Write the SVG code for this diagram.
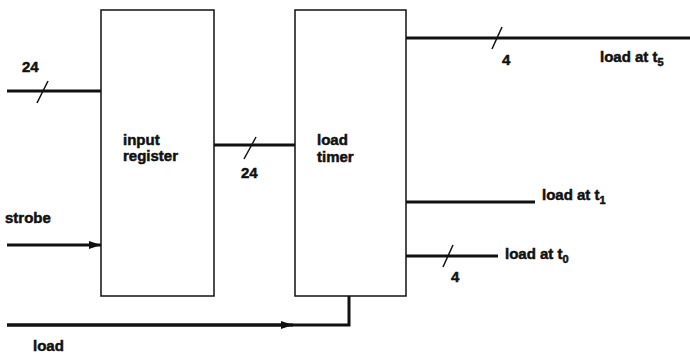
<svg xmlns="http://www.w3.org/2000/svg" width="690" height="355" viewBox="0 0 690 355">
<defs>
<style>
.box{fill:#fff;stroke:#111;stroke-width:1.5}
.w{fill:none;stroke:#111;stroke-width:3}
.tk{fill:none;stroke:#111;stroke-width:1.5}
text{font-family:"Liberation Sans",Arial,sans-serif;font-weight:bold;font-size:15px;fill:#111;stroke:#111;stroke-width:0.5}
.sub{font-size:11px}
</style>
<marker id="ah" markerWidth="12" markerHeight="8" refX="12" refY="4" orient="auto" markerUnits="userSpaceOnUse">
<path d="M0,0 L12,4 L0,8 Z" fill="#111"/>
</marker>
</defs>
<g id="input-register">
<rect class="box" x="101" y="10" width="113" height="286"/>
<text x="123" y="145">input</text>
<text x="123" y="161">register</text>
</g>
<g id="load-timer">
<rect class="box" x="295" y="10" width="111" height="286"/>
<text x="317" y="145">load</text>
<text x="317" y="162">timer</text>
</g>
<g id="connectors">
<line class="w" x1="7" y1="91" x2="101" y2="91"/>
<line class="tk" x1="37" y1="103" x2="48" y2="81"/>
<text x="22" y="72">24</text>
<line class="w" x1="214" y1="145" x2="295" y2="145"/>
<line class="tk" x1="244" y1="159" x2="256" y2="137"/>
<text x="241" y="178">24</text>
<line class="w" x1="406" y1="38" x2="690" y2="38"/>
<line class="tk" x1="492" y1="49" x2="502" y2="27"/>
<text x="502" y="65">4</text>
<text x="600" y="62">load at t<tspan class="sub" dy="4">5</tspan></text>
<line class="w" x1="406" y1="202" x2="535" y2="202"/>
<text x="542" y="200">load at t<tspan class="sub" dy="4">1</tspan></text>
<line class="w" x1="406" y1="256" x2="498" y2="256"/>
<line class="tk" x1="443" y1="267" x2="453" y2="245"/>
<text x="451" y="282">4</text>
<text x="505" y="259">load at t<tspan class="sub" dy="4">0</tspan></text>
<text x="5" y="223">strobe</text>
<line class="w" x1="7" y1="245" x2="101" y2="245" marker-end="url(#ah)"/>
<polyline class="w" points="7,325 349,325 349,296"/>
<line class="w" x1="7" y1="325" x2="293" y2="325" marker-end="url(#ah)"/>
<text x="33" y="351">load</text>
</g>
</svg>
